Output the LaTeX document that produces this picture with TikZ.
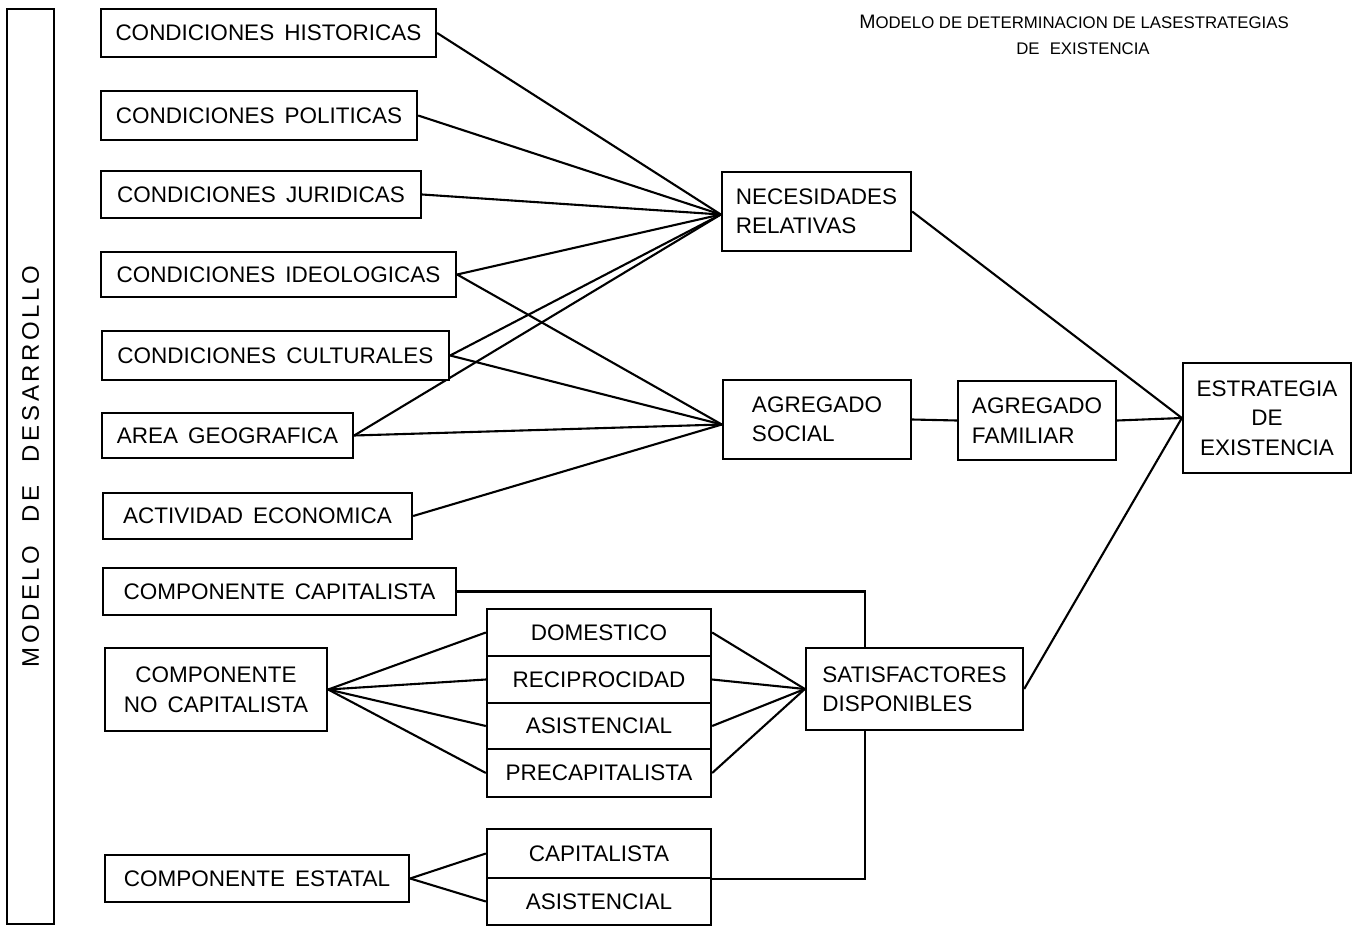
\documentclass[tikz,border=0pt]{standalone}
\usepackage{fontspec}
\setmainfont{Liberation Sans}
\usetikzlibrary{backgrounds}
\newcommand\bxfont{\fontsize{22.5}{29.5}\selectfont\spaceskip 0.45em\relax}
\begin{document}
\begin{tikzpicture}[x=1pt,y=-1pt,
  box/.style={draw, line width=2.3pt, fill=white, inner sep=0pt, font=\bxfont},
  link/.style={line width=2.1pt},
  ttl/.style={inner sep=0pt}]
\useasboundingbox (0,0) rectangle (1353,926);
% left vertical box
\node[box, minimum width=915pt, minimum height=47pt, rotate=90,
  font=\fontsize{24}{26}\selectfont] (dev) at (30.5,466.5)
  {\makebox[402pt][s]{M\hfill O\hfill D\hfill E\hfill L\hfill O\hfill\hspace{16pt}\hfill D\hfill E\hfill\hspace{16pt}\hfill D\hfill E\hfill S\hfill A\hfill R\hfill R\hfill O\hfill L\hfill L\hfill O}};
% title
\node[ttl] (title1) at (1074,22) {\fontsize{19.5}{20}\selectfont M\fontsize{16.8}{20}\selectfont ODELO DE DETERMINACION DE LASESTRATEGIAS};
\node[ttl] (title2) at (1083,49) {\fontsize{16.8}{20}\selectfont DE\hspace{0.6em}EXISTENCIA};
% left column
\node[box, minimum width=335pt, minimum height=48pt] (hist) at (268.5,33) {CONDICIONES HISTORICAS};
\node[box, minimum width=316pt, minimum height=49pt] (pol) at (259,115.5) {CONDICIONES POLITICAS};
\node[box, minimum width=320pt, minimum height=47pt] (jur) at (261,194.5) {CONDICIONES JURIDICAS};
\node[box, minimum width=355pt, minimum height=45pt] (ideo) at (278.5,274.5) {CONDICIONES IDEOLOGICAS};
\node[box, minimum width=347pt, minimum height=49pt] (cult) at (275.5,355.5) {CONDICIONES CULTURALES};
\node[box, minimum width=251pt, minimum height=45pt] (area) at (227.5,435.5) {AREA GEOGRAFICA};
\node[box, minimum width=309pt, minimum height=46pt] (act) at (257.5,516) {ACTIVIDAD ECONOMICA};
\node[box, minimum width=353pt, minimum height=47pt] (ccap) at (279.5,591.5) {COMPONENTE CAPITALISTA};
\node[box, minimum width=222pt, minimum height=83pt, align=center] (nocap) at (216,689.5) {COMPONENTE\\NO CAPITALISTA};
\node[box, minimum width=304pt, minimum height=47pt] (estatal) at (257,878.5) {COMPONENTE ESTATAL};
% stacked boxes
\node[box, minimum width=224pt, minimum height=47pt] (dom) at (599,632.5) {DOMESTICO};
\node[box, minimum width=224pt, minimum height=47pt] (rec) at (599,679.5) {RECIPROCIDAD};
\node[box, minimum width=224pt, minimum height=46pt] (asis) at (599,726) {ASISTENCIAL};
\node[box, minimum width=224pt, minimum height=48pt] (pre) at (599,773) {PRECAPITALISTA};
\node[box, minimum width=224pt, minimum height=49pt] (cap2) at (599,853.5) {CAPITALISTA};
\node[box, minimum width=224pt, minimum height=47pt] (asis2) at (599,901.5) {ASISTENCIAL};
% middle / right
\node[box, minimum width=189pt, minimum height=79pt, align=left] (nec) at (816.5,211.5) {NECESIDADES\\RELATIVAS};
\node[box, minimum width=188pt, minimum height=79pt, align=left] (soc) at (817,419.5) {AGREGADO\\SOCIAL};
\node[box, minimum width=158pt, minimum height=79pt, align=left] (fam) at (1037,420.5) {AGREGADO\\FAMILIAR};
\node[box, minimum width=168pt, minimum height=110pt, align=center] (est) at (1267,418) {ESTRATEGIA\\DE\\EXISTENCIA};
\node[box, minimum width=217pt, minimum height=82pt, align=left] (sat) at (914.5,689) {SATISFACTORES\\DISPONIBLES};
\coordinate (necin) at ([yshift=-3pt]nec.west);
\coordinate (socin) at ([yshift=-5pt]soc.west);
\coordinate (vx) at (865,0);
\begin{scope}[on background layer]
\draw[link] (hist.east) -- (necin);
\draw[link] (pol.east) -- (necin);
\draw[link] (jur.east) -- (necin);
\draw[link] (ideo.east) -- (necin);
\draw[link] (cult.east) -- (necin);
\draw[link] (area.east) -- (necin);
\draw[link] (ideo.east) -- (socin);
\draw[link] (cult.east) -- (socin);
\draw[link] (area.east) -- (socin);
\draw[link] (act.east) -- (socin);
\draw[link] (soc.east) -- (fam.west);
\draw[link] (fam.east) -- (est.west);
\draw[link] (nec.east) -- (est.west);
\draw[link] (sat.east) -- (est.west);
\draw[link] (nocap.east) -- (dom.west);
\draw[link] (nocap.east) -- (rec.west);
\draw[link] (nocap.east) -- (asis.west);
\draw[link] (nocap.east) -- (pre.west);
\draw[link] (dom.east) -- (sat.west);
\draw[link] (rec.east) -- (sat.west);
\draw[link] (asis.east) -- (sat.west);
\draw[link] (pre.east) -- (sat.west);
\draw[link] (estatal.east) -- (cap2.west);
\draw[link] (estatal.east) -- (asis2.west);
\draw[link] (ccap.east) -- (ccap.east -| vx) -- (cap2.south east -| vx) -- (cap2.south east);
\end{scope}
\end{tikzpicture}
\end{document}
